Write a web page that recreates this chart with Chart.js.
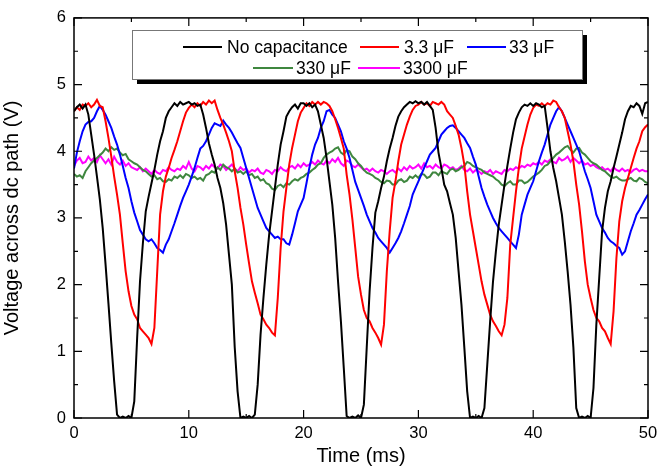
<!DOCTYPE html>
<html>
<head>
<meta charset="utf-8">
<script src="https://cdn.jsdelivr.net/npm/chart.js@4.4.1/dist/chart.umd.min.js"></script>
<style>
  html, body { margin: 0; padding: 0; background: #fff; }
  #wrap { width: 667px; height: 470px; position: relative; }
</style>
</head>
<body>
<div id="wrap"><canvas id="c" width="667" height="470"></canvas></div>
<script>
// Sampling grid (ms), 0.25 ms steps from 0 to 50
const timeMs = Array.from({length: 201}, (_, i) => i * 0.25);

const seriesLabels = ["No capacitance", "3.3 \u03bcF", "33 \u03bcF", "330 \u03bcF", "3300 \u03bcF"];
const seriesColors = ["#000000", "#ff0000", "#0000ff", "#3f873f", "#ff00ff"];

const noCap = [
  4.60,4.66,4.70,4.64,4.70,4.55,4.25,3.95,3.62,3.28,2.85,2.30,1.72,1.12,0.55,0.05,0.00,0.02,0.00,0.03,
  0.00,0.25,1.20,2.05,2.62,3.10,3.32,3.52,3.72,3.95,4.15,4.30,4.50,4.60,4.66,4.72,4.68,4.74,4.70,4.72,
  4.74,4.70,4.72,4.68,4.70,4.55,4.35,4.12,3.95,3.80,3.60,3.45,3.22,2.90,2.45,2.00,1.06,0.40,0.00,0.02,
  0.00,0.03,0.00,0.05,0.50,1.25,1.80,2.30,2.75,3.10,3.45,3.80,4.10,4.30,4.52,4.60,4.66,4.70,4.64,4.72,
  4.72,4.68,4.72,4.66,4.70,4.60,4.40,4.20,3.90,3.55,3.20,2.70,2.05,1.45,0.75,0.03,0.00,0.02,0.00,0.04,
  0.00,0.20,1.06,1.90,2.55,3.08,3.25,3.45,3.62,3.85,4.04,4.20,4.38,4.52,4.60,4.66,4.70,4.74,4.72,4.75,
  4.72,4.74,4.70,4.74,4.68,4.62,4.35,3.98,3.75,3.50,3.40,3.22,3.05,2.70,2.20,1.70,1.06,0.40,0.00,0.02,
  0.00,0.03,0.00,0.15,0.80,1.45,2.05,2.50,2.90,3.20,3.50,3.78,4.04,4.28,4.48,4.58,4.66,4.70,4.68,4.72,
  4.68,4.72,4.70,4.66,4.68,4.35,4.00,3.75,3.55,3.30,3.05,2.65,2.20,1.70,1.06,0.15,0.00,0.02,0.00,0.03,
  0.00,0.45,1.40,2.10,2.80,3.15,3.40,3.55,3.75,3.92,4.10,4.28,4.48,4.60,4.68,4.66,4.72,4.68,4.56,4.72,
  4.74
];
const cap3p3 = [
  4.60,4.66,4.62,4.70,4.68,4.72,4.66,4.70,4.77,4.68,4.66,4.45,4.20,3.92,3.62,3.35,3.05,2.62,2.20,1.90,
  1.68,1.55,1.48,1.35,1.30,1.25,1.20,1.11,1.35,2.20,3.05,3.40,3.62,3.75,3.90,4.02,4.15,4.30,4.45,4.58,
  4.65,4.70,4.66,4.72,4.68,4.74,4.70,4.76,4.72,4.76,4.62,4.50,4.40,4.28,4.15,4.00,3.70,3.45,3.15,2.90,
  2.60,2.32,2.05,1.88,1.72,1.55,1.48,1.40,1.35,1.28,1.24,1.80,2.55,3.10,3.45,3.80,4.05,4.25,4.45,4.58,
  4.65,4.72,4.68,4.74,4.70,4.74,4.70,4.74,4.72,4.68,4.60,4.48,4.35,4.20,4.04,3.65,3.35,2.98,2.55,2.12,
  1.85,1.62,1.50,1.45,1.35,1.28,1.20,1.10,1.40,2.20,2.80,3.30,3.55,3.85,4.10,4.25,4.40,4.52,4.62,4.68,
  4.70,4.74,4.70,4.72,4.68,4.74,4.72,4.70,4.74,4.70,4.60,4.55,4.50,4.38,4.25,4.05,3.80,3.40,3.05,2.80,
  2.55,2.30,2.05,1.85,1.70,1.55,1.45,1.38,1.30,1.24,1.40,1.80,2.60,3.00,3.40,3.75,4.04,4.22,4.40,4.55,
  4.65,4.70,4.68,4.72,4.68,4.72,4.70,4.76,4.74,4.66,4.60,4.50,4.30,4.10,3.85,3.50,3.20,2.80,2.35,2.00,
  1.80,1.62,1.50,1.45,1.35,1.30,1.20,1.11,1.60,2.40,2.95,3.25,3.45,3.60,3.75,3.90,4.04,4.15,4.30,4.36,
  4.40
];
const cap33 = [
  3.74,3.98,4.15,4.30,4.40,4.44,4.45,4.50,4.60,4.68,4.62,4.55,4.45,4.35,4.22,4.10,3.95,3.78,3.60,3.45,
  3.25,3.08,2.95,2.82,2.75,2.68,2.65,2.68,2.62,2.55,2.52,2.48,2.60,2.68,2.80,2.92,3.05,3.18,3.30,3.40,
  3.50,3.62,3.75,3.90,4.04,4.08,4.15,4.25,4.35,4.42,4.40,4.38,4.46,4.40,4.35,4.28,4.20,4.12,4.05,3.90,
  3.75,3.60,3.45,3.30,3.15,3.05,2.95,2.85,2.80,2.75,2.70,2.72,2.68,2.68,2.62,2.60,2.75,2.92,3.10,3.20,
  3.30,3.52,3.75,3.95,4.10,4.20,4.35,4.45,4.60,4.62,4.55,4.50,4.40,4.30,4.15,4.04,3.90,3.72,3.54,3.42,
  3.30,3.18,3.05,2.95,2.85,2.78,2.70,2.65,2.60,2.55,2.48,2.55,2.62,2.70,2.80,2.92,3.05,3.18,3.35,3.45,
  3.55,3.65,3.75,3.85,3.95,4.00,4.05,4.15,4.25,4.30,4.35,4.38,4.39,4.35,4.30,4.25,4.20,4.12,4.05,3.92,
  3.80,3.62,3.45,3.32,3.20,3.10,3.00,2.92,2.85,2.80,2.75,2.70,2.65,2.60,2.55,2.75,3.05,3.20,3.35,3.45,
  3.55,3.70,3.85,3.98,4.10,4.25,4.40,4.50,4.60,4.66,4.60,4.50,4.40,4.30,4.20,4.10,4.00,3.85,3.70,3.58,
  3.45,3.25,3.05,2.95,2.85,2.78,2.70,2.65,2.62,2.58,2.55,2.45,2.50,2.65,2.80,2.92,3.05,3.12,3.20,3.28,
  3.35
];
const cap330 = [
  3.66,3.62,3.64,3.60,3.70,3.76,3.82,3.86,3.90,3.94,3.98,4.04,4.00,4.06,4.02,4.04,3.98,3.94,3.96,3.88,
  3.85,3.82,3.80,3.76,3.72,3.70,3.66,3.62,3.64,3.58,3.60,3.55,3.54,3.58,3.56,3.62,3.60,3.64,3.60,3.66,
  3.64,3.60,3.62,3.58,3.60,3.56,3.64,3.66,3.70,3.68,3.76,3.72,3.80,3.76,3.74,3.70,3.74,3.68,3.70,3.66,
  3.70,3.64,3.66,3.60,3.62,3.56,3.58,3.52,3.50,3.44,3.42,3.48,3.50,3.46,3.52,3.50,3.55,3.58,3.56,3.60,
  3.62,3.66,3.68,3.72,3.75,3.80,3.82,3.90,3.95,3.98,4.00,4.04,4.06,3.98,3.95,4.02,4.00,3.92,3.88,3.82,
  3.78,3.72,3.68,3.66,3.64,3.60,3.58,3.54,3.52,3.56,3.55,3.50,3.50,3.56,3.58,3.54,3.56,3.62,3.60,3.64,
  3.60,3.66,3.65,3.60,3.62,3.68,3.68,3.64,3.70,3.68,3.66,3.72,3.74,3.70,3.72,3.76,3.78,3.84,3.82,3.78,
  3.76,3.74,3.72,3.68,3.66,3.64,3.62,3.58,3.55,3.50,3.48,3.52,3.55,3.50,3.50,3.56,3.56,3.52,3.54,3.58,
  3.62,3.65,3.68,3.72,3.78,3.80,3.85,3.90,3.95,3.98,4.02,4.06,4.08,4.02,3.98,4.04,4.05,3.98,3.95,3.90,
  3.85,3.82,3.80,3.76,3.72,3.70,3.66,3.62,3.60,3.62,3.58,3.56,3.56,3.58,3.60,3.56,3.55,3.60,3.58,3.54,
  3.52
];
const cap3300 = [
  3.78,3.86,3.90,3.82,3.84,3.92,3.86,3.90,3.84,3.94,3.88,3.82,3.88,3.80,3.92,3.84,3.80,3.86,3.78,3.82,
  3.76,3.74,3.72,3.76,3.70,3.74,3.70,3.66,3.72,3.68,3.66,3.72,3.70,3.76,3.72,3.70,3.74,3.72,3.78,3.74,
  3.84,3.74,3.70,3.78,3.76,3.72,3.78,3.74,3.80,3.76,3.74,3.80,3.78,3.72,3.76,3.80,3.74,3.70,3.76,3.72,
  3.74,3.68,3.72,3.70,3.74,3.68,3.66,3.72,3.70,3.66,3.72,3.70,3.76,3.72,3.70,3.76,3.78,3.74,3.80,3.76,
  3.82,3.78,3.80,3.84,3.80,3.86,3.82,3.80,3.86,3.82,3.88,3.84,3.90,3.82,3.78,3.86,3.84,3.78,3.76,3.80,
  3.76,3.72,3.74,3.70,3.74,3.70,3.68,3.72,3.70,3.66,3.70,3.72,3.68,3.74,3.70,3.76,3.72,3.78,3.74,3.76,
  3.80,3.74,3.82,3.76,3.78,3.74,3.80,3.76,3.74,3.80,3.78,3.74,3.76,3.72,3.74,3.78,3.72,3.70,3.74,3.68,
  3.72,3.70,3.66,3.70,3.68,3.72,3.66,3.70,3.68,3.66,3.72,3.70,3.74,3.72,3.76,3.74,3.78,3.76,3.80,3.78,
  3.82,3.80,3.84,3.80,3.86,3.84,3.88,3.84,3.82,3.90,3.86,3.88,3.92,3.84,3.90,3.86,3.82,3.86,3.80,3.82,
  3.78,3.80,3.76,3.74,3.76,3.72,3.74,3.70,3.76,3.72,3.70,3.74,3.70,3.72,3.68,3.72,3.74,3.70,3.72,3.70,
  3.70
];

const xTickValues = [0, 10, 20, 30, 40, 50];
const xMinorValues = [5, 15, 25, 35, 45];
const yTickValues = [0, 1, 2, 3, 4, 5, 6];
const yMinorValues = [0.5, 1.5, 2.5, 3.5, 4.5, 5.5];

const allSeries = [noCap, cap3p3, cap33, cap330, cap3300];
const FONT = "'Liberation Sans', Arial, sans-serif";

const datasets = allSeries.map((vals, k) => ({
  label: seriesLabels[k],
  data: vals.map((v, i) => ({x: timeMs[i], y: v})),
  borderColor: seriesColors[k],
  backgroundColor: seriesColors[k],
  borderWidth: 2,
  pointRadius: 0,
  tension: 0,
  fill: false
}));

const framePlugin = {
  id: 'frame',
  afterDatasetsDraw(chart) {
    const {ctx, chartArea: a, scales} = chart;
    ctx.save();
    ctx.strokeStyle = '#000';
    ctx.lineWidth = 1.5;
    ctx.strokeRect(a.left, a.top, a.right - a.left, a.bottom - a.top);
    ctx.lineWidth = 1.2;
    ctx.beginPath();
    const tick = (vals, len, axis) => {
      vals.forEach(v => {
        if (axis === 'x') {
          const px = scales.x.getPixelForValue(v);
          ctx.moveTo(px, a.bottom); ctx.lineTo(px, a.bottom - len);
          ctx.moveTo(px, a.top); ctx.lineTo(px, a.top + len);
        } else {
          const py = scales.y.getPixelForValue(v);
          ctx.moveTo(a.left, py); ctx.lineTo(a.left + len, py);
          ctx.moveTo(a.right, py); ctx.lineTo(a.right - len, py);
        }
      });
    };
    tick(xTickValues, 8, 'x'); tick(xMinorValues, 4, 'x');
    tick(yTickValues, 8, 'y'); tick(yMinorValues, 4, 'y');
    ctx.stroke();
    ctx.restore();
  }
};

const legendPlugin = {
  id: 'boxLegend',
  afterDraw(chart) {
    const ctx = chart.ctx;
    ctx.save();
    const bx = 132, by = 30, bw = 450, bh = 49;
    ctx.fillStyle = '#000';
    ctx.fillRect(bx + 5, by + 5, bw, bh);
    ctx.fillStyle = '#fff';
    ctx.fillRect(bx, by, bw, bh);
    ctx.strokeStyle = '#777';
    ctx.lineWidth = 1;
    ctx.strokeRect(bx + 0.5, by + 0.5, bw, bh);
    const items = [
      {k: 0, x1: 183, x2: 222, tx: 227, y: 47},
      {k: 1, x1: 360, x2: 399, tx: 404, y: 47},
      {k: 2, x1: 467, x2: 506, tx: 509, y: 47},
      {k: 3, x1: 253, x2: 293, tx: 296, y: 68},
      {k: 4, x1: 358, x2: 400, tx: 403, y: 68}
    ];
    ctx.font = "17.5px " + FONT;
    ctx.textBaseline = 'middle';
    items.forEach(it => {
      ctx.strokeStyle = seriesColors[it.k];
      ctx.lineWidth = 2;
      ctx.beginPath();
      ctx.moveTo(it.x1, it.y); ctx.lineTo(it.x2, it.y);
      ctx.stroke();
      ctx.fillStyle = '#000';
      ctx.fillText(chart.data.datasets[it.k].label, it.tx, it.y + 1);
    });
    ctx.restore();
  }
};

new Chart(document.getElementById('c'), {
  type: 'line',
  data: { datasets },
  options: {
    responsive: false,
    animation: false,
    layout: { padding: { top: 15, right: 19, left: 0, bottom: 0 } },
    plugins: { legend: { display: false }, tooltip: { enabled: false } },
    scales: {
      x: {
        type: 'linear', min: 0, max: 50,
        afterFit(s) { s.height = 52; },
        afterBuildTicks(s) { s.ticks = xTickValues.map(v => ({value: v})); },
        grid: { display: false, drawTicks: false },
        border: { display: false },
        ticks: { color: '#000', font: { family: FONT, size: 16.5 }, padding: 6, maxRotation: 0 },
        title: { display: true, text: 'Time (ms)', color: '#000', font: { family: FONT, size: 20 }, padding: { top: 0, bottom: 2 } }
      },
      y: {
        type: 'linear', min: 0, max: 6,
        afterFit(s) { s.width = 74; },
        afterBuildTicks(s) { s.ticks = yTickValues.map(v => ({value: v})); },
        grid: { display: false, drawTicks: false },
        border: { display: false },
        ticks: { color: '#000', font: { family: FONT, size: 16.5 }, padding: 8 },
        title: { display: true, text: 'Voltage across dc path (V)', color: '#000', font: { family: FONT, size: 20 }, padding: { top: 0, bottom: 9 } }
      }
    }
  },
  plugins: [framePlugin, legendPlugin]
});
</script>
</body>
</html>
